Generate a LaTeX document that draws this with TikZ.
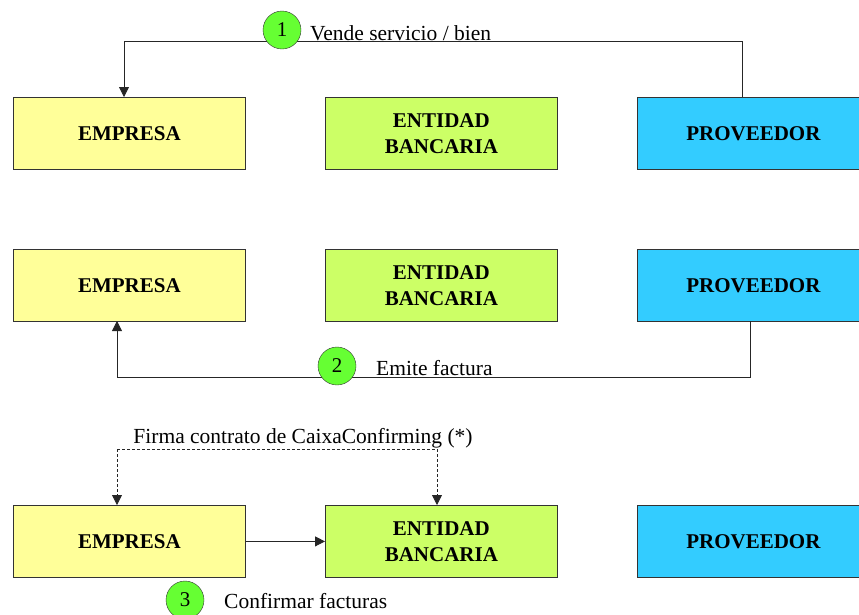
\documentclass[tikz,border=0pt]{standalone}
\usepackage{fontspec}
\setmainfont{Liberation Serif}
\usetikzlibrary{arrows.meta}
\definecolor{empc}{HTML}{FFFF99}
\definecolor{entc}{HTML}{CCFF66}
\definecolor{proc}{HTML}{33CCFF}
\definecolor{numc}{HTML}{66FF33}
\begin{document}
\begin{tikzpicture}[x=1pt,y=-1pt,
  box/.style={draw=black!80, line width=0.8pt, minimum width=232pt, minimum height=72pt, anchor=north west, inner sep=0pt, font=\fontsize{21}{26}\selectfont\bfseries, align=center},
  num/.style={circle, draw=black!80, fill=numc, minimum size=38pt, inner sep=0pt, font=\fontsize{21}{24}\selectfont},
  lbl/.style={font=\fontsize{21.5}{24}\selectfont, inner sep=0pt},
  conn/.style={draw=black!85, line width=0.8pt},
  arr/.style={conn, -{Triangle[length=10pt,width=10pt]}}
]
\useasboundingbox (0,0) rectangle (859,614);
% row 1
\node[box, fill=empc] (e1) at (13,97) {EMPRESA};
\node[box, fill=entc] (b1) at (325,97) {ENTIDAD\\BANCARIA};
\node[box, fill=proc] (p1) at (637,97) {PROVEEDOR};
% row 2
\node[box, fill=empc] (e2) at (13,249) {EMPRESA};
\node[box, fill=entc] (b2) at (325,249) {ENTIDAD\\BANCARIA};
\node[box, fill=proc] (p2) at (637,249) {PROVEEDOR};
% row 3
\node[box, fill=empc] (e3) at (13,505) {EMPRESA};
\node[box, fill=entc] (b3) at (325,505) {ENTIDAD\\BANCARIA};
\node[box, fill=proc] (p3) at (637,505) {PROVEEDOR};

% connector 1
\coordinate (p1t) at (742,97);
\coordinate (e1t) at (124,97);
\draw[arr] (p1t) -- (742,41) -- (124,41) -- (e1t);
\node[num] (n1) at (282,30) {1};
\node[lbl, anchor=base west] (l1) at (310,40) {Vende servicio / bien};

% connector 2
\coordinate (p2b) at (750,321);
\coordinate (e2b) at (117,321);
\draw[arr] (p2b) -- (750,377) -- (117,377) -- (e2b);
\node[num] (n2) at (337,366) {2};
\node[lbl, anchor=base west] (l2) at (376,375) {Emite factura};

% dashed contract
\coordinate (e3t) at (117,505);
\coordinate (b3t) at (437,505);
\draw[arr, dash pattern=on 3pt off 2pt] (117,449) -- (e3t);
\draw[arr, dash pattern=on 3pt off 2pt] (437,449) -- (b3t);
\draw[conn, dash pattern=on 3pt off 2pt] (117,449) -- (437,449);
\node[lbl, anchor=base] (l4) at (303,443) {Firma contrato de CaixaConfirming (*)};

% confirm
\draw[arr] (e3.east) -- (b3.west);
\node[num] (n3) at (185,600) {3};
\node[lbl, anchor=base west] (l3) at (224,608) {Confirmar facturas};
\end{tikzpicture}
\end{document}
